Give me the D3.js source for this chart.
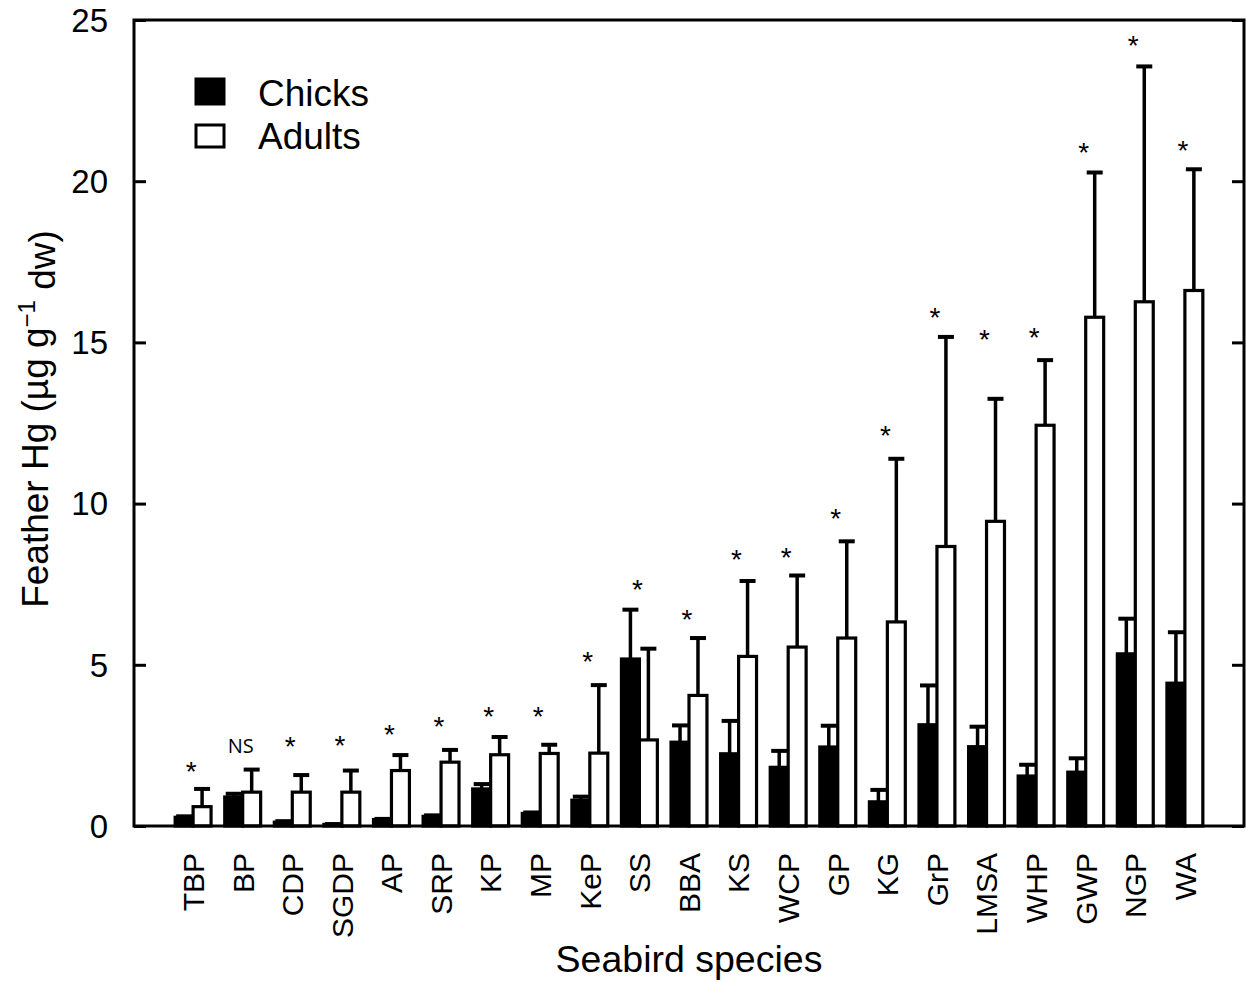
<!DOCTYPE html>
<meta charset="utf-8">
<script src="https://d3js.org/d3.v7.min.js"></script>
<style>
  body { margin: 0; background: #fff; }
  text { font-family: "Liberation Sans", Arial, sans-serif; fill: #000; }
</style>
<div id="chart"></div>
<script>

// species codes (x axis)
var species = ["TBP", "BP", "CDP", "SGDP", "AP", "SRP", "KP", "MP", "KeP", "SS", "BBA",
               "KS", "WCP", "GP", "KG", "GrP", "LMSA", "WHP", "GWP", "NGP", "WA"];

// mean feather Hg and upper error (SD) for chicks and adults
var chickMean = [0.27, 0.9, 0.12, 0.05, 0.2, 0.3, 1.15, 0.39, 0.8, 5.18, 2.6,
                 2.24, 1.82, 2.45, 0.75, 3.14, 2.46, 1.55, 1.67, 5.34, 4.43];
var chickSD   = [0.03, 0.1, 0.03, 0.01, 0.02, 0.03, 0.15, 0.03, 0.11, 1.53, 0.52,
                 1.02, 0.51, 0.66, 0.37, 1.22, 0.62, 0.35, 0.43, 1.09, 1.58];
var adultMean = [0.6, 1.05, 1.05, 1.05, 1.72, 1.98, 2.21, 2.25, 2.26, 2.67, 4.05,
                 5.26, 5.55, 5.83, 6.33, 8.67, 9.45, 12.43, 15.78, 16.26, 16.61];
var adultSD   = [0.55, 0.7, 0.53, 0.67, 0.48, 0.38, 0.55, 0.27, 2.11, 2.83, 1.78,
                 2.34, 2.22, 3.0, 5.06, 6.5, 3.8, 2.02, 4.49, 7.3, 3.76];

// significance marks and where they sit (in y units)
var sigLabel = ["*", "NS", "*", "*", "*", "*", "*", "*", "*", "*", "*",
                "*", "*", "*", "*", "*", "*", "*", "*", "*", "*"];
var sigY     = [1.89, 2.5, 2.67, 2.7, 3.04, 3.29, 3.6, 3.6, 5.31, 7.56, 6.62,
                8.48, 8.55, 9.76, 12.33, 15.97, 15.31, 15.35, 21.1, 24.41, 21.17];

var yTicks = [0, 5, 10, 15, 20, 25];
var groups = ["Chicks", "Adults"];

var margin = {top: 20, right: 2, bottom: 156, left: 134},
    width = 1246 - margin.left - margin.right,
    height = 982 - margin.top - margin.bottom;

var svg = d3.select("#chart")
  .append("svg")
    .attr("width", 1246)
    .attr("height", 982)
  .append("g")
    .attr("transform", "translate(" + margin.left + "," + margin.top + ")");

var x0 = d3.scaleBand()
    .domain(species)
    .range([0, width])
    .paddingInner(0.276)
    .paddingOuter(0.83);

var x1 = d3.scaleBand()
    .domain(groups)
    .range([0, x0.bandwidth()]);

var y = d3.scaleLinear().domain([0, 25]).range([height, 0]);

var rows = species.map(function(s, i) {
  return {
    sp: s,
    vals: [
      {g: "Chicks", mean: chickMean[i], sd: chickSD[i]},
      {g: "Adults", mean: adultMean[i], sd: adultSD[i]}
    ],
    sig: sigLabel[i],
    sigY: sigY[i]
  };
});

// bars
var grp = svg.selectAll(".grp")
  .data(rows)
  .enter().append("g")
    .attr("class", "grp")
    .attr("transform", function(d) { return "translate(" + x0(d.sp) + ",0)"; });

grp.selectAll("rect")
  .data(function(d) { return d.vals; })
  .enter().append("rect")
    .attr("x", function(d) { return x1(d.g); })
    .attr("width", x1.bandwidth())
    .attr("y", function(d) { return y(d.mean); })
    .attr("height", function(d) { return y(0) - y(d.mean); })
    .attr("fill", function(d) { return d.g == "Chicks" ? "#000" : "#fff"; })
    .attr("stroke", "#000")
    .attr("stroke-width", 3.2);

// upper error bars
var err = grp.selectAll(".err")
  .data(function(d) { return d.vals; })
  .enter().append("g")
    .attr("class", "err")
    .attr("transform", function(d) { return "translate(" + (x1(d.g) + x1.bandwidth() / 2) + ",0)"; });

err.append("line")
    .attr("y1", function(d) { return y(d.mean); })
    .attr("y2", function(d) { return y(d.mean + d.sd); })
    .attr("stroke", "#000")
    .attr("stroke-width", 3.5);

err.append("line")
    .attr("x1", -8).attr("x2", 8)
    .attr("y1", function(d) { return y(d.mean + d.sd); })
    .attr("y2", function(d) { return y(d.mean + d.sd); })
    .attr("stroke", "#000")
    .attr("stroke-width", 4);

// significance
grp.append("text")
    .attr("x", x0.bandwidth() / 2 - 2)
    .attr("y", function(d) { return y(d.sigY); })
    .attr("dy", function(d) { return d.sig == "*" ? "0.58em" : "0.36em"; })
    .attr("text-anchor", "middle")
    .style("font-family", function(d) { return d.sig == "*" ? "'Liberation Sans', sans-serif" : "'Open Sans', sans-serif"; })
    .style("font-size", function(d) { return d.sig == "*" ? "28px" : "20px"; })
    .text(function(d) { return d.sig; });

// frame
svg.append("rect")
    .attr("width", width)
    .attr("height", height)
    .attr("fill", "none")
    .attr("stroke", "#000")
    .attr("stroke-width", 3);

// left axis, ticks pointing in
var yAxis = svg.append("g")
    .call(d3.axisRight(y).tickValues(yTicks).tickSize(12).tickFormat(""));
yAxis.select(".domain").remove();
yAxis.selectAll("line").attr("stroke-width", 3);

svg.selectAll(".ylab")
  .data(yTicks)
  .enter().append("text")
    .attr("x", -26)
    .attr("y", function(d) { return y(d); })
    .attr("dy", "0.36em")
    .attr("text-anchor", "end")
    .style("font-size", "33px")
    .text(function(d) { return d; });

// right axis ticks
var yAxisR = svg.append("g")
    .attr("transform", "translate(" + width + ",0)")
    .call(d3.axisLeft(y).tickValues(yTicks).tickSize(12).tickFormat(""));
yAxisR.select(".domain").remove();
yAxisR.selectAll("line").attr("stroke-width", 3);

// category labels
svg.selectAll(".xlab")
  .data(species)
  .enter().append("text")
    .attr("transform", function(d) {
      return "translate(" + (x0(d) + x0.bandwidth() / 2) + "," + (height + 27) + ") rotate(-90)";
    })
    .attr("dy", "0.36em")
    .attr("text-anchor", "end")
    .style("font-size", "30px")
    .text(function(d) { return d; });

// axis titles
svg.append("text")
    .attr("x", width / 2)
    .attr("y", height + 146)
    .attr("text-anchor", "middle")
    .style("font-size", "37.5px")
    .text("Seabird species");

var yt = svg.append("text")
    .attr("transform", "translate(" + (48 - margin.left) + "," + (height / 2 - 4) + ") rotate(-90)")
    .attr("text-anchor", "middle")
    .style("font-size", "37px");
yt.append("tspan").text("Feather Hg (\u00b5g g");
yt.append("tspan").attr("dy", "-0.55em").style("font-size", "24px").text("\u22121");
yt.append("tspan").attr("dy", "0.55em").text(" dw)");

// legend
var legend = svg.selectAll(".leg")
  .data(groups)
  .enter().append("g")
    .attr("transform", function(d, i) { return "translate(62," + (59 + i * 46) + ")"; });

legend.append("rect")
    .attr("width", 28)
    .attr("height", function(d, i) { return i == 0 ? 25 : 22; })
    .attr("fill", function(d) { return d == "Chicks" ? "#000" : "#fff"; })
    .attr("stroke", "#000")
    .attr("stroke-width", 3);

legend.append("text")
    .attr("x", 62)
    .attr("y", function(d, i) { return i == 0 ? 27 : 24; })
    .style("font-size", "37px")
    .text(function(d) { return d; });

</script>
